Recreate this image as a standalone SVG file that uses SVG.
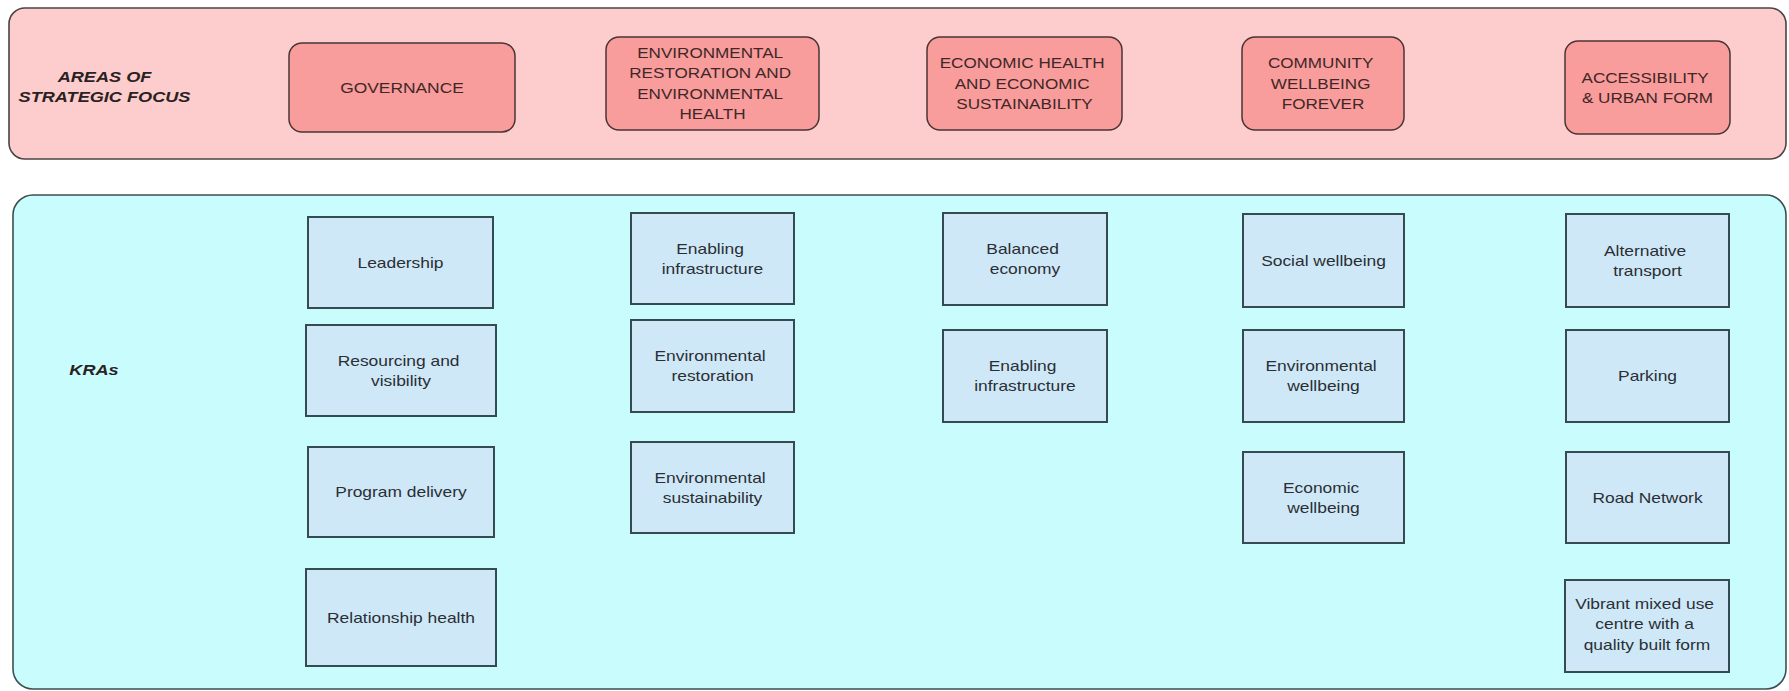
<svg xmlns="http://www.w3.org/2000/svg" width="1789" height="691" viewBox="0 0 1789 691">
  <style>
    .panel-top { fill: #fdcdcd; stroke: #4a4444; stroke-width: 1.6; }
    .panel-kra { fill: #c9fdfd; stroke: #3d4f52; stroke-width: 1.6; }
    .area { fill: #f99c9c; stroke: #4a3434; stroke-width: 1.5; }
    .kra { fill: #cfe8f8; stroke: #364a52; stroke-width: 2; }
    text { font-family: "Liberation Sans", Arial, sans-serif; font-size: 15px; text-anchor: middle; }
    .heading { font-weight: bold; font-style: italic; font-size: 15.5px; fill: #2a2222; }
    .area-t { fill: #3f2727; }
    .kra-t { fill: #2a2f33; }
  </style>

  <!-- background panels -->
  <rect class="panel-top" x="9" y="8" width="1777" height="151" rx="16"/>
  <rect class="panel-kra" x="13" y="195" width="1773" height="494" rx="20"/>

  <!-- row headings -->
  <g id="heading-areas">
    <text class="heading" transform="matrix(1.17 0 0 1 104.5 0)" x="0" y="82">AREAS OF</text>
    <text class="heading" transform="matrix(1.17 0 0 1 104.5 0)" x="0" y="102">STRATEGIC FOCUS</text>
  </g>
  <g id="heading-kras">
    <text class="heading" transform="matrix(1.17 0 0 1 94 0)" x="0" y="375">KRAs</text>
  </g>

  <!-- areas of strategic focus -->
  <g id="area-governance">
    <rect class="area" x="289" y="43" width="226" height="89" rx="13"/>
    <text class="area-t" transform="matrix(1.16 0 0 1 402 0)" x="0" y="93">GOVERNANCE</text>
  </g>
  <g id="area-environment">
    <rect class="area" x="606" y="37" width="213" height="93" rx="13"/>
    <text class="area-t" transform="matrix(1.14 0 0 1 712.5 0)" x="0" y="58">
      <tspan x="0">ENVIRONMENTAL</tspan>
      <tspan x="0" dy="20.5">RESTORATION AND</tspan>
      <tspan x="0" dy="20.5">ENVIRONMENTAL</tspan>
      <tspan x="0" dy="20.5">HEALTH</tspan>
    </text>
  </g>
  <g id="area-economic">
    <rect class="area" x="927" y="37" width="195" height="93" rx="13"/>
    <text class="area-t" transform="matrix(1.14 0 0 1 1024.5 0)" x="0" y="68.5">
      <tspan x="0">ECONOMIC HEALTH</tspan>
      <tspan x="0" dy="20.5">AND ECONOMIC</tspan>
      <tspan x="0" dy="20.5">SUSTAINABILITY</tspan>
    </text>
  </g>
  <g id="area-community">
    <rect class="area" x="1242" y="37" width="162" height="93" rx="13"/>
    <text class="area-t" transform="matrix(1.14 0 0 1 1323 0)" x="0" y="68.5">
      <tspan x="0">COMMUNITY</tspan>
      <tspan x="0" dy="20.5">WELLBEING</tspan>
      <tspan x="0" dy="20.5">FOREVER</tspan>
    </text>
  </g>
  <g id="area-accessibility">
    <rect class="area" x="1565" y="41" width="165" height="93" rx="13"/>
    <text class="area-t" transform="matrix(1.14 0 0 1 1647.5 0)" x="0" y="83">
      <tspan x="0">ACCESSIBILITY</tspan>
      <tspan x="0" dy="20.5">&amp; URBAN FORM</tspan>
    </text>
  </g>

  <!-- KRAs: governance -->
  <g id="kra-leadership">
    <rect class="kra" x="308" y="217" width="185" height="91"/>
    <text class="kra-t" transform="matrix(1.16 0 0 1 400.5 0)" x="0" y="268">Leadership</text>
  </g>
  <g id="kra-resourcing">
    <rect class="kra" x="306" y="325" width="190" height="91"/>
    <text class="kra-t" transform="matrix(1.16 0 0 1 401 0)" x="0" y="366">
      <tspan x="0">Resourcing and</tspan>
      <tspan x="0" dy="20">visibility</tspan>
    </text>
  </g>
  <g id="kra-program-delivery">
    <rect class="kra" x="308" y="447" width="186" height="90"/>
    <text class="kra-t" transform="matrix(1.16 0 0 1 401 0)" x="0" y="497.5">Program delivery</text>
  </g>
  <g id="kra-relationship-health">
    <rect class="kra" x="306" y="569" width="190" height="97"/>
    <text class="kra-t" transform="matrix(1.16 0 0 1 401 0)" x="0" y="623">Relationship health</text>
  </g>

  <!-- KRAs: environmental -->
  <g id="kra-env-infrastructure">
    <rect class="kra" x="631" y="213" width="163" height="91"/>
    <text class="kra-t" transform="matrix(1.16 0 0 1 712.5 0)" x="0" y="254">
      <tspan x="0">Enabling</tspan>
      <tspan x="0" dy="20">infrastructure</tspan>
    </text>
  </g>
  <g id="kra-env-restoration">
    <rect class="kra" x="631" y="320" width="163" height="92"/>
    <text class="kra-t" transform="matrix(1.16 0 0 1 712.5 0)" x="0" y="361.5">
      <tspan x="0">Environmental</tspan>
      <tspan x="0" dy="20">restoration</tspan>
    </text>
  </g>
  <g id="kra-env-sustainability">
    <rect class="kra" x="631" y="442" width="163" height="91"/>
    <text class="kra-t" transform="matrix(1.16 0 0 1 712.5 0)" x="0" y="483">
      <tspan x="0">Environmental</tspan>
      <tspan x="0" dy="20">sustainability</tspan>
    </text>
  </g>

  <!-- KRAs: economic -->
  <g id="kra-balanced-economy">
    <rect class="kra" x="943" y="213" width="164" height="92"/>
    <text class="kra-t" transform="matrix(1.16 0 0 1 1025 0)" x="0" y="254.5">
      <tspan x="0">Balanced</tspan>
      <tspan x="0" dy="20">economy</tspan>
    </text>
  </g>
  <g id="kra-econ-infrastructure">
    <rect class="kra" x="943" y="330" width="164" height="92"/>
    <text class="kra-t" transform="matrix(1.16 0 0 1 1025 0)" x="0" y="371.5">
      <tspan x="0">Enabling</tspan>
      <tspan x="0" dy="20">infrastructure</tspan>
    </text>
  </g>

  <!-- KRAs: community -->
  <g id="kra-social-wellbeing">
    <rect class="kra" x="1243" y="214" width="161" height="93"/>
    <text class="kra-t" transform="matrix(1.16 0 0 1 1323.5 0)" x="0" y="266">Social wellbeing</text>
  </g>
  <g id="kra-environmental-wellbeing">
    <rect class="kra" x="1243" y="330" width="161" height="92"/>
    <text class="kra-t" transform="matrix(1.16 0 0 1 1323.5 0)" x="0" y="371.5">
      <tspan x="0">Environmental</tspan>
      <tspan x="0" dy="20">wellbeing</tspan>
    </text>
  </g>
  <g id="kra-economic-wellbeing">
    <rect class="kra" x="1243" y="452" width="161" height="91"/>
    <text class="kra-t" transform="matrix(1.16 0 0 1 1323.5 0)" x="0" y="493">
      <tspan x="0">Economic</tspan>
      <tspan x="0" dy="20">wellbeing</tspan>
    </text>
  </g>

  <!-- KRAs: accessibility -->
  <g id="kra-alternative-transport">
    <rect class="kra" x="1566" y="214" width="163" height="93"/>
    <text class="kra-t" transform="matrix(1.16 0 0 1 1647.5 0)" x="0" y="256">
      <tspan x="0">Alternative</tspan>
      <tspan x="0" dy="20">transport</tspan>
    </text>
  </g>
  <g id="kra-parking">
    <rect class="kra" x="1566" y="330" width="163" height="92"/>
    <text class="kra-t" transform="matrix(1.16 0 0 1 1647.5 0)" x="0" y="381">Parking</text>
  </g>
  <g id="kra-road-network">
    <rect class="kra" x="1566" y="452" width="163" height="91"/>
    <text class="kra-t" transform="matrix(1.16 0 0 1 1647.5 0)" x="0" y="503">Road Network</text>
  </g>
  <g id="kra-vibrant-centre">
    <rect class="kra" x="1565" y="580" width="164" height="92"/>
    <text class="kra-t" transform="matrix(1.16 0 0 1 1647 0)" x="0" y="609">
      <tspan x="0">Vibrant mixed use</tspan>
      <tspan x="0" dy="20.5">centre with a</tspan>
      <tspan x="0" dy="20.5">quality built form</tspan>
    </text>
  </g>

  <g id="connectors"/>
</svg>
